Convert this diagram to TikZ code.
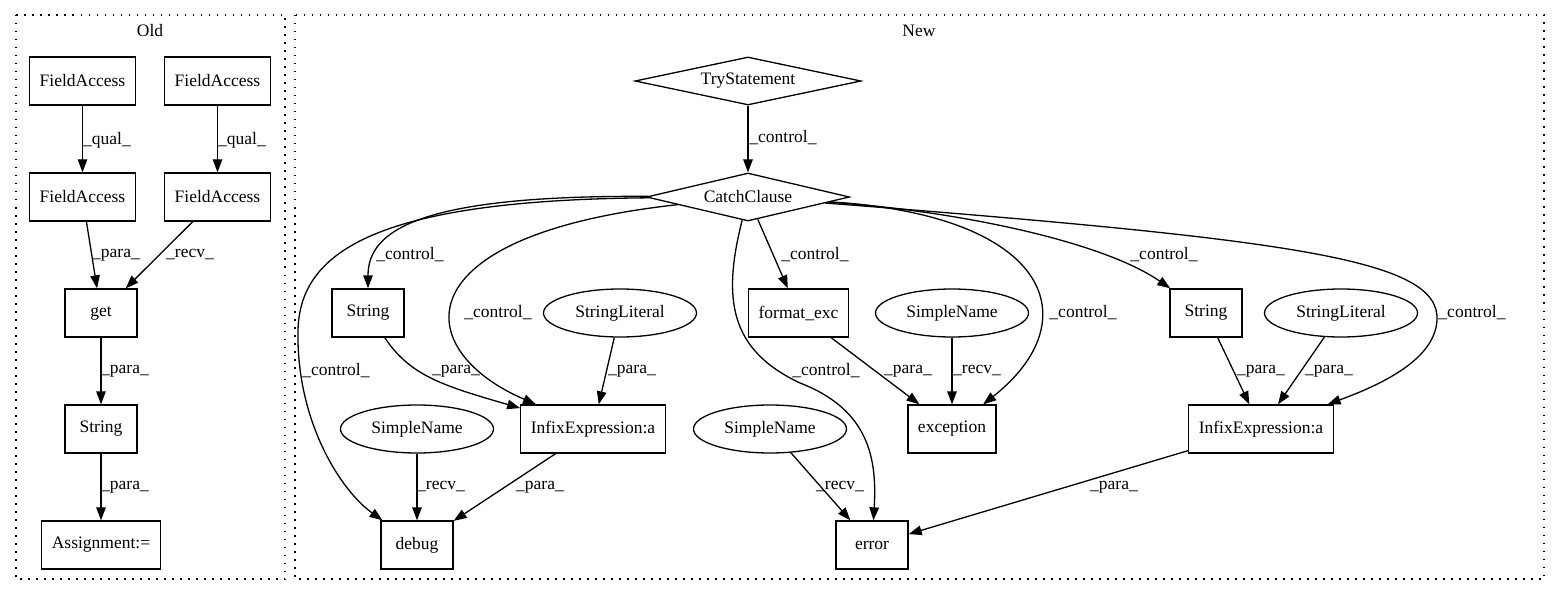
\documentclass[tikz,border=0pt]{standalone}
\usepackage{fontspec}
\setmainfont{Liberation Serif}
\usetikzlibrary{arrows.meta,shapes.geometric}
\begin{document}
\begin{tikzpicture}[x=1pt, y=-1pt,
    font=\fontsize{17.5}{20}\selectfont,
    box/.style={draw, line width=1.3pt, rectangle, minimum width=72pt, minimum height=48pt, inner xsep=10pt, inner ysep=0pt},
    oval/.style={draw, line width=1.3pt, ellipse, minimum width=153pt, minimum height=48pt, inner sep=0pt},
    dia/.style={draw, line width=1.3pt, diamond, shape aspect=4.7, minimum height=48pt, inner sep=0pt},
    edge/.style={line width=1.3pt, -{Triangle[length=13pt, width=9.5pt]}},
    lbl/.style={inner sep=0pt},
    cluster/.style={draw, line width=1.3pt, dash pattern=on 1.5pt off 6.5pt}]
\useasboundingbox (0,0) rectangle (1560,596);

% clusters
\draw[cluster] (16,15) rectangle (285,579);
\node (oldtitle) at (150,31) {Old};
\draw[cluster] (295,15) rectangle (1544,579);
\node (newtitle) at (919,31) {New};

% old nodes
\node[box] (fa1) at (82.5,81) {FieldAccess};
\node[box] (fa2) at (217.5,81) {FieldAccess};
\node[box] (fa3) at (82.5,197) {FieldAccess};
\node[box] (fa4) at (217.5,197) {FieldAccess};
\node[box] (get) at (101,313) {get};
\node[box] (strO) at (101,429) {String};
\node[box] (asg) at (101,545) {Assignment:=};

% new nodes
\node[dia, minimum width=226pt] (ts) at (748,81) {TryStatement};
\node[dia, minimum width=203pt] (cc) at (748,197) {CatchClause};
\node[box] (strL) at (368,313) {String};
\node[oval] (slL) at (620,313) {StringLiteral};
\node[box] (fmt) at (798.5,313) {format\_exc};
\node[oval] (snE) at (952,313) {SimpleName};
\node[box] (strR) at (1206,313) {String};
\node[oval] (slR) at (1341,313) {StringLiteral};
\node[oval] (snL) at (417,429) {SimpleName};
\node[box] (infL) at (593,429) {InfixExpression:a};
\node[oval] (snM) at (770,429) {SimpleName};
\node[box] (exc) at (952,429) {exception};
\node[box] (infR) at (1261,429) {InfixExpression:a};
\node[box] (dbg) at (417,545) {debug};
\node[box] (err) at (872,545) {error};

% old edges
\draw[edge] (fa1) -- (fa3) node[lbl] at (107,140) {\_qual\_};
\draw[edge] (fa2) -- (fa4) node[lbl] at (242,140) {\_qual\_};
\draw[edge] (fa3) -- (get) node[lbl] at (116,255) {\_para\_};
\draw[edge] (fa4) -- (get) node[lbl] at (190,255) {\_recv\_};
\draw[edge] (get) -- (strO) node[lbl] at (125,371) {\_para\_};
\draw[edge] (strO) -- (asg) node[lbl] at (125,487) {\_para\_};

% new edges
\draw[edge] (ts) -- (cc) node[lbl] at (783,138) {\_control\_};
\draw[edge] (cc) .. controls (420,195) and (368,230) .. (strL) node[lbl] at (410,255) {\_control\_};
\draw[edge] (cc) .. controls (380,200) and (300,250) .. (298,330) .. controls (296,420) and (340,490) .. (dbg) node[lbl] at (336,371) {\_control\_};
\draw[edge] (cc) .. controls (400,235) and (410,350) .. (infL) node[lbl] at (498,313) {\_control\_};
\draw[edge] (cc) .. controls (722,300) and (730,350) .. (800,383) .. controls (870,410) and (877,460) .. (err) node[lbl] at (826,371) {\_control\_};
\draw[edge] (cc) -- (fmt) node[lbl] at (815,255) {\_control\_};
\draw[edge] (cc) .. controls (1050,215) and (1090,320) .. (exc) node[lbl] at (1083,313) {\_control\_};
\draw[edge] (cc) .. controls (950,210) and (1100,240) .. (strR) node[lbl] at (1164,255) {\_control\_};
\draw[edge] (cc) .. controls (1300,240) and (1440,260) .. (1437,320) .. controls (1435,360) and (1380,385) .. (infR) node[lbl] at (1472,313) {\_control\_};
\draw[edge] (strL) .. controls (410,375) and (440,385) .. (infL) node[lbl] at (456,371) {\_para\_};
\draw[edge] (slL) -- (infL) node[lbl] at (632,371) {\_para\_};
\draw[edge] (snL) -- (dbg) node[lbl] at (441,487) {\_recv\_};
\draw[edge] (infL) -- (dbg) node[lbl] at (540,487) {\_para\_};
\draw[edge] (fmt) -- (exc) node[lbl] at (908,371) {\_para\_};
\draw[edge] (snE) -- (exc) node[lbl] at (977,371) {\_recv\_};
\draw[edge] (strR) -- (infR) node[lbl] at (1261,371) {\_para\_};
\draw[edge] (slR) -- (infR) node[lbl] at (1329,371) {\_para\_};
\draw[edge] (infR) -- (err) node[lbl] at (1114,487) {\_para\_};
\draw[edge] (snM) -- (err) node[lbl] at (840,487) {\_recv\_};
\end{tikzpicture}
\end{document}
